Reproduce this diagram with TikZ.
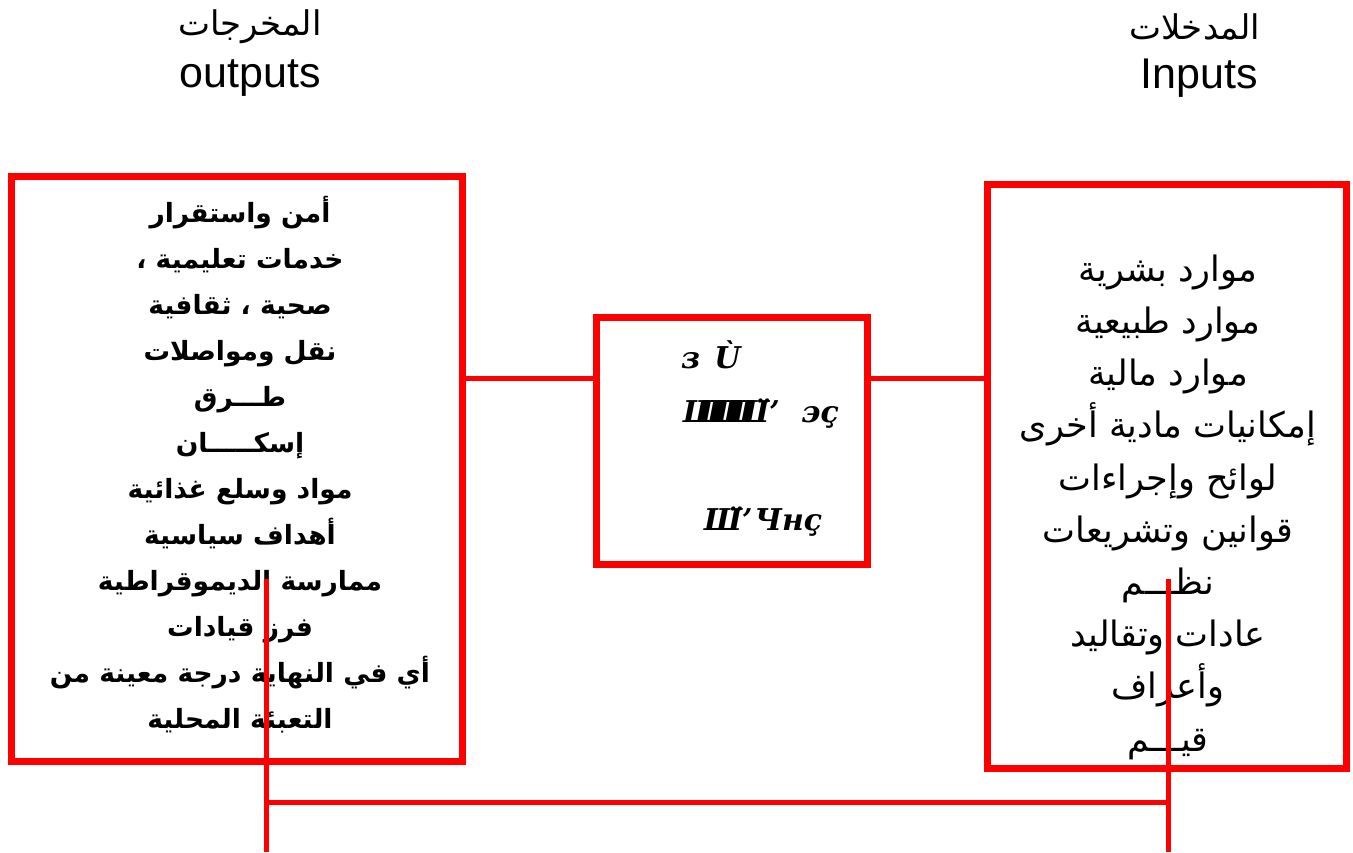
\documentclass[tikz,border=0pt]{standalone}
\usepackage{fontspec}
\setmainfont{Liberation Sans}
\newfontfamily\arabicfont[Script=Arabic]{DejaVu Sans}
\newfontfamily\garbfont{DejaVu Serif}
\TeXXeTstate=1
\usetikzlibrary{calc}
\newcommand\AR[1]{\beginR #1\endR}
\begin{document}
\begin{tikzpicture}[x=1pt,y=-1pt,
  box/.style={draw=red, line width=7pt, inner sep=0pt},
  conn/.style={draw=red, line width=5pt},
  title/.style={font=\fontsize{43}{50}\selectfont, align=center},
  artitle/.style={font=\arabicfont\fontsize{34}{40}\selectfont},
  ltxt/.style={font=\arabicfont\bfseries\fontsize{26.5}{46}\selectfont, align=center},
  rtxt/.style={font=\arabicfont\fontsize{35}{52.2}\selectfont, align=center},
  gtxt/.style={font=\garbfont\bfseries\itshape\fontsize{30}{36}\selectfont, anchor=base west, inner sep=1pt}]
\useasboundingbox (0,0) rectangle (1353,852);
\fill[white] (0,0) rectangle (1353,852);
% titles
\node[artitle] (tout-ar) at (250,27) {\AR{المخرجات}};
\node[title] (tout) at (250,78) {outputs};
\node[artitle] (tin-ar) at (1195,27) {\AR{المدخلات}};
\node[title] (tin) at (1199,78) {Inputs};
% boxes
\node[box, minimum width=451pt, minimum height=585pt] (lbox) at (236.5,468.5) {};
\node[box, minimum width=270.5pt, minimum height=247pt] (mbox) at (732,440.5) {};
\node[box, minimum width=359.5pt, minimum height=584pt] (rbox) at (1167,476) {};
% texts
\node[ltxt] (ltext) at (240,465) {%
\AR{أمن واستقرار}\\
\AR{خدمات تعليمية  ،}\\
\AR{صحية ، ثقافية}\\
\AR{نقل ومواصلات}\\
\AR{طـــرق}\\
\AR{إسكـــــان}\\
\AR{مواد وسلع غذائية}\\
\AR{أهداف سياسية}\\
\AR{ممارسة الديموقراطية}\\
\AR{فرز قيادات}\\
\AR{أي في النهاية درجة معينة من}\\
\AR{التعبئة المحلية}};
\node[rtxt] (rtext) at (1168,507) {%
\AR{موارد بشرية}\\
\AR{موارد طبيعية}\\
\AR{موارد مالية}\\
\AR{إمكانيات مادية أخرى}\\
\AR{لوائح وإجراءات}\\
\AR{قوانين وتشريعات}\\
\AR{نظـــم}\\
\AR{عادات وتقاليد}\\
\AR{وأعراف}\\
\AR{قيـــم}};
\node[gtxt] (g1) at (680,368) {з\hspace{14pt}Ù};
\node[gtxt] (g2) at (682,422) {Ш\kern-22ptШ\kern-22ptШ\kern-22ptШ̈’};
\node[gtxt] (g3) at (800,422) {эҫ};
\node[gtxt] (g4) at (703,530) {Ш̈’\hspace{2pt}Чнҫ};
% connectors
\coordinate (mL) at ($(mbox.north west)!0.255!(mbox.south west)$);
\coordinate (mR) at ($(mbox.north east)!0.255!(mbox.south east)$);
\draw[conn] (lbox.east |- mL) -- (mL);
\draw[conn] (mR) -- (rbox.west |- mR);
\coordinate (vLtop) at (266,579);
\coordinate (vLbot) at (266,852);
\coordinate (vRtop) at (1168.5,579);
\coordinate (vRbot) at (1168.5,852);
\coordinate (hL) at (266,802);
\coordinate (hR) at (1168.5,802);
\draw[conn] (vLtop) -- (vLbot);
\draw[conn] (vRtop) -- (vRbot);
\draw[conn] (hL) -- (hR);
\end{tikzpicture}
\end{document}
